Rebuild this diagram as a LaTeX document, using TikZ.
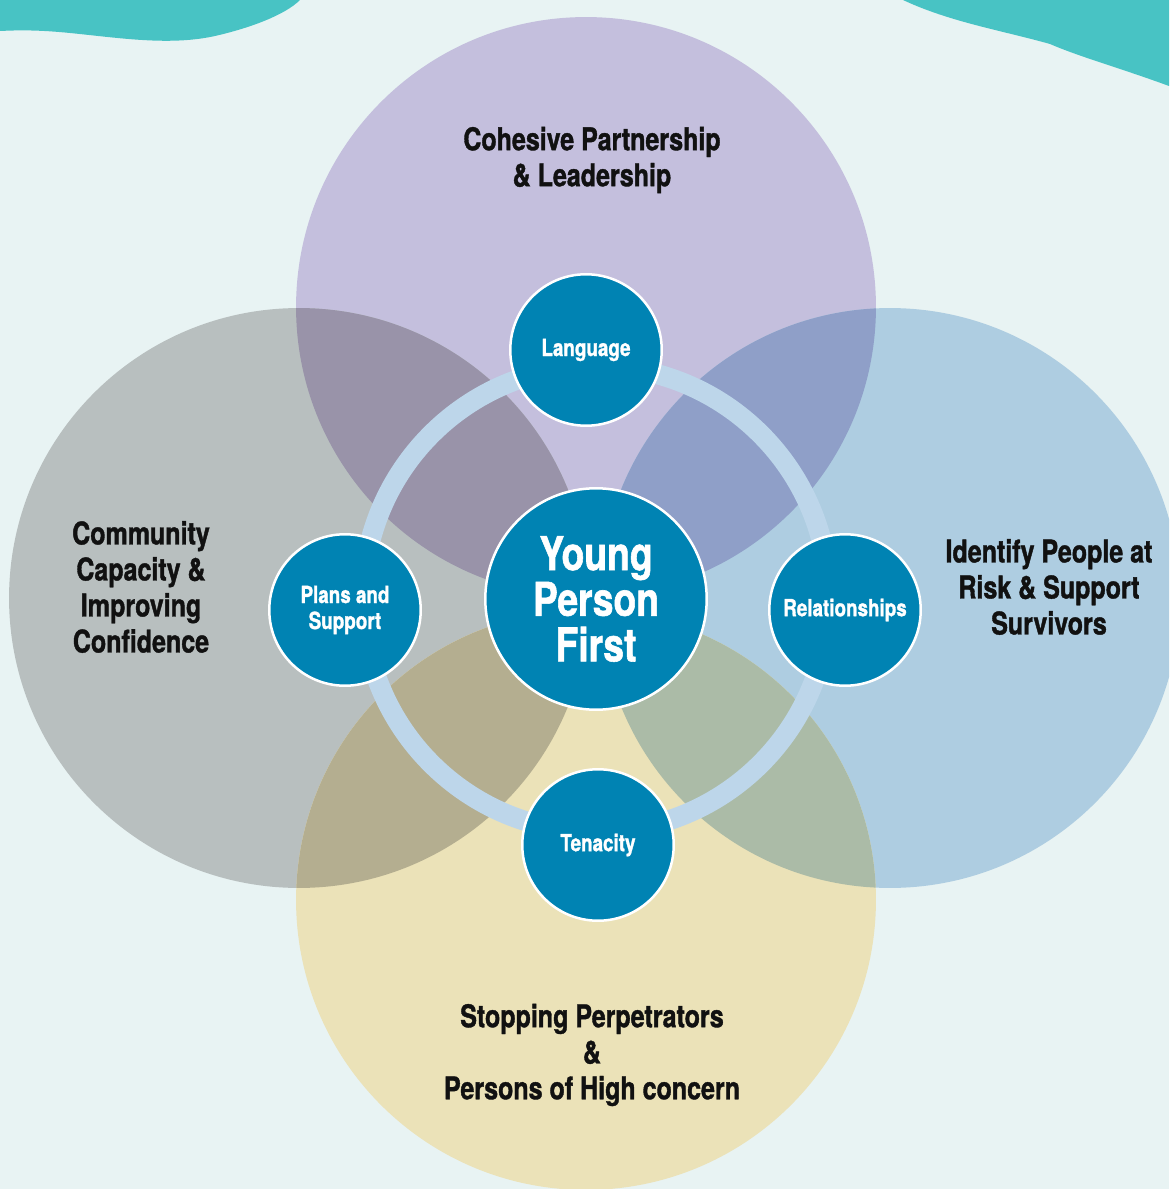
\documentclass[tikz,border=0pt]{standalone}
\usepackage{fontspec}
\setmainfont{TeX Gyre Heros}[FakeStretch=0.8, BoldFeatures={FakeBold=1.2}]
\usepackage{tikz}
\usetikzlibrary{positioning}
\definecolor{paper}{HTML}{E8F3F3}
\definecolor{surf}{HTML}{48C3C4}
\definecolor{lilac}{HTML}{C4BFDD}
\definecolor{stone}{HTML}{B8BFBF}
\definecolor{sky}{HTML}{AECDE1}
\definecolor{sand}{HTML}{EBE2B8}
\definecolor{lilacstone}{HTML}{9993A9}
\definecolor{lilacsky}{HTML}{8F9FC8}
\definecolor{stonesand}{HTML}{B4AE90}
\definecolor{skysand}{HTML}{ABBBA7}
\definecolor{ringblue}{HTML}{BDD6EA}
\definecolor{valueblue}{HTML}{0083B3}
\definecolor{ink}{HTML}{111111}
\tikzset{
    area/.style={circle, inner sep=0pt, minimum size=11.6cm},
    areatext/.style={align=center, text=ink, font=\bfseries\fontsize{17.8}{20.5}\selectfont},
    value/.style={circle, inner sep=0pt, minimum size=3.03cm, fill=valueblue, draw=white, line width=0.05cm, align=center, text=white, font=\bfseries\fontsize{13.4}{14.8}\selectfont},
    hub/.style={value, minimum size=4.43cm, font=\bfseries\fontsize{26.5}{26}\selectfont},
    ring/.style={draw=ringblue, line width=0.4cm},
}

\begin{document}
\begin{tikzpicture}[x=0.02cm, y=-0.02cm]
    \useasboundingbox (0,0) rectangle (1169,1189);
    \clip (0,0) rectangle (1169,1189);
    \fill[paper] (0,0) rectangle (1169,1189);
    \fill[surf] (0,0) -- (300,0) .. controls (285,15) and (250,28) .. (215,36)
        .. controls (170,46) and (120,38) .. (70,33) .. controls (40,30) and (20,30) .. (0,31) -- cycle;
    \fill[surf] (903,0) -- (1169,0) -- (1169,86) .. controls (1120,68) and (1080,57) .. (1050,44)
        .. controls (1000,30) and (950,22) .. cycle;

    \node (partnership) at (586,307) [area, fill=lilac] {};
    \node (community)   at (299,598) [area, fill=stone] {};
    \node (identify)    at (890,598) [area, fill=sky] {};
    \node (stopping)    at (586,900) [area, fill=sand] {};

    \begin{scope}
        \clip (partnership.center) circle [radius=5.8cm];
        \fill[lilacstone] (community.center) circle [radius=5.8cm];
        \fill[lilacsky] (identify.center) circle [radius=5.8cm];
    \end{scope}
    \begin{scope}
        \clip (stopping.center) circle [radius=5.8cm];
        \fill[stonesand] (community.center) circle [radius=5.8cm];
        \fill[skysand] (identify.center) circle [radius=5.8cm];
    \end{scope}

    \coordinate (middle) at (596,599);
    \draw[ring] (middle) circle [radius=4.66cm];
    \node (first) at (middle) [hub] {Young\\Person\\First};

    \node (language)      at (586,350) [value] {Language};
    \node (plans)         at (345,610) [value] {Plans and\\Support};
    \node (relationships) at (845,610) [value] {Relationships};
    \node (tenacity)      at (598,845) [value] {Tenacity};

    \node (partnershiptext) at (592,160)  [areatext] {Cohesive Partnership\\\& Leadership};
    \node (communitytext)   at (141,587)  [areatext] {Community\\Capacity \&\\Improving\\Confidence};
    \node (identifytext)    at (1049,587) [areatext] {Identify People at\\Risk \& Support\\Survivors};
    \node (stoppingtext)    at (592,1055) [areatext] {Stopping Perpetrators\\\&\\Persons of High concern};
\end{tikzpicture}
\end{document}
